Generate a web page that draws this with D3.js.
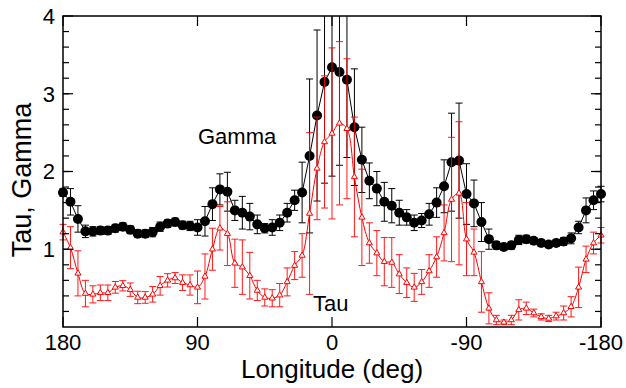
<!DOCTYPE html>
<html>
<head>
<meta charset="utf-8">
<script src="https://cdn.jsdelivr.net/npm/d3@7"></script>
<style>
  body { margin: 0; background: #fff; }
  text { font-family: "Liberation Sans", Arial, sans-serif; }
</style>
</head>
<body>
<svg id="chart" width="626" height="388"></svg>
<script>
// longitudes, 180 down to -180 every 5 deg
var longitudes = d3.range(180, -181, -5);

var gamma = [1.73, 1.61, 1.39, 1.23, 1.23, 1.24, 1.24, 1.27, 1.29, 1.25,
  1.20, 1.20, 1.22, 1.29, 1.33, 1.35, 1.31, 1.30, 1.28, 1.36,
  1.58, 1.77, 1.74, 1.50, 1.47, 1.42, 1.32, 1.27, 1.28, 1.34,
  1.47, 1.63, 1.73, 2.20, 2.72, 3.15, 3.34, 3.28, 3.18, 2.57,
  2.15, 1.88, 1.78, 1.61, 1.56, 1.47, 1.41, 1.34, 1.37, 1.45,
  1.60, 1.81, 2.12, 2.14, 1.71, 1.59, 1.35, 1.13, 1.05, 1.03,
  1.05, 1.12, 1.13, 1.11, 1.08, 1.06, 1.08, 1.10, 1.14, 1.28,
  1.50, 1.63, 1.71];
var gammaErr = [0.05, 0.17, 0.17, 0.08, 0.06, 0.05, 0.05, 0.05, 0.05, 0.05,
  0.05, 0.05, 0.06, 0.06, 0.05, 0.05, 0.05, 0.06, 0.10, 0.19,
  0.21, 0.20, 0.25, 0.13, 0.21, 0.17, 0.12, 0.06, 0.10, 0.10,
  0.12, 0.13, 0.39, 0.99, 1.10, 1.30, 1.40, 1.20, 1.00, 0.75,
  0.42, 0.23, 0.22, 0.25, 0.22, 0.16, 0.10, 0.10, 0.09, 0.14,
  0.19, 0.34, 0.63, 0.74, 0.39, 0.30, 0.25, 0.13, 0.05, 0.04,
  0.05, 0.06, 0.05, 0.04, 0.04, 0.04, 0.04, 0.05, 0.07, 0.08,
  0.16, 0.12, 0.10];

var tau = [1.22, 1.02, 0.69, 0.43, 0.42, 0.44, 0.44, 0.51, 0.53, 0.48,
  0.38, 0.38, 0.42, 0.53, 0.60, 0.63, 0.57, 0.54, 0.51, 0.65,
  1.00, 1.27, 1.20, 0.82, 0.77, 0.66, 0.47, 0.38, 0.37, 0.41,
  0.58, 0.79, 0.92, 1.46, 2.04, 2.38, 2.49, 2.62, 2.55, 1.93,
  1.41, 1.08, 0.95, 0.84, 0.83, 0.68, 0.57, 0.51, 0.58, 0.72,
  0.90, 1.21, 1.64, 1.72, 1.13, 0.96, 0.58, 0.24, 0.09, 0.06,
  0.09, 0.22, 0.24, 0.18, 0.13, 0.11, 0.14, 0.18, 0.26, 0.51,
  0.87, 1.08, 1.18];
var tauErr = [0.10, 0.27, 0.29, 0.17, 0.11, 0.10, 0.10, 0.075, 0.066, 0.086,
  0.08, 0.075, 0.10, 0.12, 0.086, 0.07, 0.10, 0.13, 0.21, 0.29,
  0.27, 0.28, 0.41, 0.31, 0.35, 0.30, 0.13, 0.11, 0.11, 0.15,
  0.18, 0.18, 0.28, 1.04, 0.66, 0.85, 1.10, 1.05, 0.90, 0.77,
  0.62, 0.26, 0.29, 0.31, 0.32, 0.25, 0.19, 0.18, 0.16, 0.21,
  0.26, 0.36, 0.80, 0.92, 0.47, 0.30, 0.39, 0.20, 0.06, 0.03,
  0.06, 0.13, 0.08, 0.05, 0.04, 0.04, 0.05, 0.09, 0.13, 0.26,
  0.17, 0.14, 0.10];

var xTicks = [180, 90, 0, -90, -180];
var yTicks = [1, 2, 3, 4];

// plot box
var plotL = 63, plotR = 601, plotT = 16, plotB = 327;

var svg = d3.select("#chart");

var x = d3.scaleLinear().domain([180, -180]).range([plotL, plotR]);
var y = d3.scaleLinear().domain([0, 4]).range([plotB, plotT]);

svg.append("defs").append("clipPath").attr("id", "plotclip")
  .append("rect")
  .attr("x", plotL - 10).attr("y", plotT)
  .attr("width", plotR - plotL + 20).attr("height", plotB - plotT);

// error bars are cut at the frame, markers are not
var bars = svg.append("g").attr("clip-path", "url(#plotclip)");
var plot = svg.append("g");

function makeData(vals, errs) {
  return longitudes.map(function(d, i) {
    return {lon: d, v: vals[i], e: errs[i]};
  });
}
var gData = makeData(gamma, gammaErr);
var tData = makeData(tau, tauErr);

// error bars with caps
function errorBars(layer, data, color, cls) {
  var g = layer.append("g").attr("stroke", color).attr("stroke-width", 1).attr("fill", "none");
  var b = g.selectAll("g." + cls).data(data).enter().append("g").attr("class", cls);
  b.append("line")
    .attr("x1", function(d) { return x(d.lon); })
    .attr("x2", function(d) { return x(d.lon); })
    .attr("y1", function(d) { return y(d.v - d.e); })
    .attr("y2", function(d) { return y(d.v + d.e); });
  b.append("line")
    .attr("x1", function(d) { return x(d.lon) - 3.5; })
    .attr("x2", function(d) { return x(d.lon) + 3.5; })
    .attr("y1", function(d) { return y(d.v + d.e); })
    .attr("y2", function(d) { return y(d.v + d.e); });
  b.append("line")
    .attr("x1", function(d) { return x(d.lon) - 3.5; })
    .attr("x2", function(d) { return x(d.lon) + 3.5; })
    .attr("y1", function(d) { return y(d.v - d.e); })
    .attr("y2", function(d) { return y(d.v - d.e); });
}

var gLayer = svg.insert("g", ":first-child");
errorBars(bars, gData, "#000", "gbar");

// gamma line + dots
plot.append("path")
  .datum(gData)
  .attr("fill", "none")
  .attr("stroke", "#000")
  .attr("stroke-width", 1)
  .attr("d", d3.line().x(function(d) { return x(d.lon); }).y(function(d) { return y(d.v); }));

plot.selectAll("circle.gamma")
  .data(gData)
  .enter()
  .append("circle")
  .attr("class", "gamma")
  .attr("cx", function(d) { return x(d.lon); })
  .attr("cy", function(d) { return y(d.v); })
  .attr("r", 5)
  .attr("fill", "#000");

var tBars = svg.append("g").attr("clip-path", "url(#plotclip)").attr("opacity", 0.9);
errorBars(tBars, tData, "#ff0000", "tbar");

// tau line (smooth) + open triangles
var tLayer = svg.append("g");
tLayer.append("path")
  .datum(tData)
  .attr("fill", "none")
  .attr("stroke", "#ff0000")
  .attr("stroke-width", 1)
  .attr("d", d3.line().curve(d3.curveCatmullRom)
    .x(function(d) { return x(d.lon); }).y(function(d) { return y(d.v); }));

var tri = d3.symbol().type(d3.symbolTriangle).size(16);
tLayer.selectAll("path.tau")
  .data(tData)
  .enter()
  .append("path")
  .attr("class", "tau")
  .attr("d", tri)
  .attr("transform", function(d) { return "translate(" + x(d.lon) + "," + y(d.v) + ")"; })
  .attr("fill", "#fff")
  .attr("stroke", "#ff0000")
  .attr("stroke-width", 1);

// frame
svg.append("rect")
  .attr("x", plotL).attr("y", plotT)
  .attr("width", plotR - plotL).attr("height", plotB - plotT)
  .attr("fill", "none").attr("stroke", "#000").attr("stroke-width", 1.5);

// y axis, ticks inside on both sides
var yMinor = d3.range(0.2, 4, 0.2);
function hTicks(vals, x0, len) {
  svg.append("g").selectAll("line").data(vals).enter().append("line")
    .attr("x1", x0).attr("x2", x0 + len)
    .attr("y1", function(d) { return y(d); }).attr("y2", function(d) { return y(d); })
    .attr("stroke", "#000").attr("stroke-width", 1.2);
}
hTicks(yMinor, plotL, 6);
hTicks(yMinor, plotR, -6);
hTicks(yTicks, plotL, 10);
hTicks(yTicks, plotR, -10);

svg.append("g").selectAll("text").data(yTicks).enter().append("text")
  .attr("x", plotL - 8)
  .attr("y", function(d) { return y(d); })
  .attr("dy", "0.36em")
  .attr("text-anchor", "end")
  .style("font-size", "22px")
  .text(function(d) { return d; });

// x axis, ticks inside top and bottom
function vTicks(vals, y0, len) {
  svg.append("g").selectAll("line").data(vals).enter().append("line")
    .attr("x1", function(d) { return x(d); }).attr("x2", function(d) { return x(d); })
    .attr("y1", y0).attr("y2", y0 + len)
    .attr("stroke", "#000").attr("stroke-width", 1.2);
}
vTicks(xTicks, plotB, -10);
vTicks(xTicks, plotT, 10);

svg.append("g").selectAll("text").data(xTicks).enter().append("text")
  .attr("x", function(d) { return x(d); })
  .attr("y", 350)
  .attr("text-anchor", "middle")
  .style("font-size", "22px")
  .text(function(d) { return d; });

// titles
svg.append("text")
  .attr("x", (plotL + plotR) / 2)
  .attr("y", 378)
  .attr("text-anchor", "middle")
  .style("font-size", "26px")
  .text("Longitude (deg)");

svg.append("text")
  .attr("transform", "translate(31,180) rotate(-90)")
  .attr("text-anchor", "middle")
  .style("font-size", "27px")
  .text("Tau, Gamma");

// series labels
svg.append("text")
  .attr("x", 198).attr("y", 144)
  .style("font-size", "22px")
  .text("Gamma");
svg.append("text")
  .attr("x", 313).attr("y", 311)
  .style("font-size", "22px")
  .text("Tau");
</script>
</body>
</html>
